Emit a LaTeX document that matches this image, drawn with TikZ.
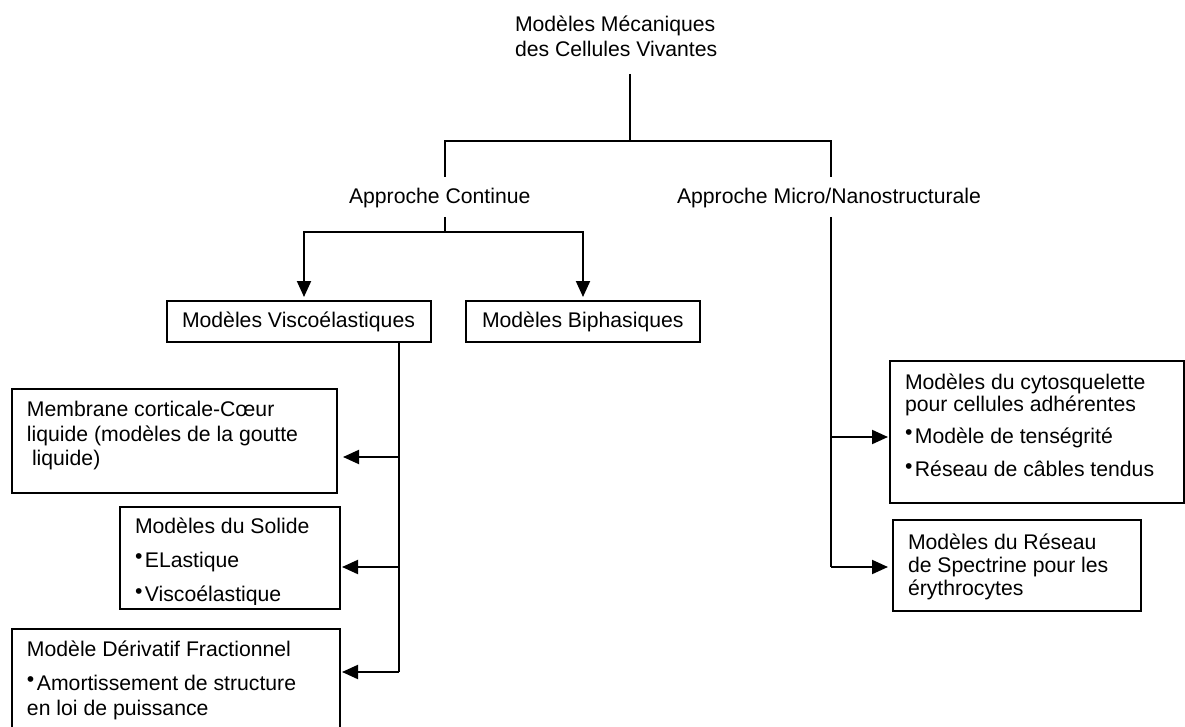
\documentclass[tikz,border=0pt]{standalone}
\usepackage{fontspec}
\setmainfont{Liberation Sans}
\usetikzlibrary{arrows.meta}
\newcommand\fs{\fontsize{21.2pt}{25pt}\selectfont}
\newcommand\mybullet{\raisebox{3.5pt}{•}\hspace{2.5pt}}
\begin{document}
\begin{tikzpicture}[x=1pt,y=-1pt,
  ln/.style={line width=2pt},
  arr/.style={line width=2pt,-{Triangle[length=16pt,width=14pt]}},
  box/.style={draw,line width=2pt,inner sep=0pt,outer sep=0pt,anchor=north west},
  txt/.style={anchor=base west,inner sep=0pt,outer sep=0pt,font=\fs}]
\useasboundingbox (0,0) rectangle (1185,727);
\fill[white] (0,0) rectangle (1185,727);
\clip (0,0) rectangle (1185,727);

% title and approaches
\node[txt] (title1) at (515,31.7) {Modèles Mécaniques};
\node[txt] (title2) at (515,56.7) {des Cellules Vivantes};
\node[txt] (cont) at (349,204) {Approche Continue};
\node[txt] (micro) at (677,204) {Approche Micro/Nanostructurale};

% boxes
\node[box,minimum width=264pt,minimum height=41pt] (visco) at (167,301) {};
\node[box,minimum width=234pt,minimum height=41pt] (bi) at (466,301) {};
\node[box,minimum width=325pt,minimum height=104pt] (mem) at (12,389) {};
\node[box,minimum width=220pt,minimum height=102pt] (sol) at (120,507) {};
\node[box,minimum width=328pt,minimum height=118pt] (fra) at (12,629) {};
\node[box,minimum width=294pt,minimum height=142pt] (cyto) at (890,361) {};
\node[box,minimum width=248pt,minimum height=91pt] (spec) at (893,520) {};

% box texts
\node[txt] (viscoT) at (182,327) {Modèles Viscoélastiques};
\node[txt] (biT) at (482,327) {Modèles Biphasiques};
\node[txt] (memT1) at (27,416.7) {Membrane corticale-Cœur};
\node[txt] (memT2) at (27,441.7) {liquide (modèles de la goutte};
\node[txt] (memT3) at (32,465.5) {liquide)};
\node[txt] (solT1) at (135,533.3) {Modèles du Solide};
\node[txt] (solT2) at (135,567.3) {\mybullet ELastique};
\begin{scope}
\clip (120,507) rectangle (340,604);
\node[txt] (solT3) at (135,601.7) {\mybullet Viscoélastique};
\end{scope}
\node[txt] (fraT1) at (27,656) {Modèle Dérivatif Fractionnel};
\node[txt] (fraT2) at (27,690) {\mybullet Amortissement de structure};
\node[txt] (fraT3) at (27,715) {en loi de puissance};
\node[txt] (cytoT1) at (905,389.3) {Modèles du cytosquelette};
\node[txt] (cytoT2) at (905,411.7) {pour cellules adhérentes};
\node[txt] (cytoT3) at (905,443.3) {\mybullet Modèle de tenségrité};
\node[txt] (cytoT4) at (905,476.7) {\mybullet Réseau de câbles tendus};
\node[txt] (specT1) at (908,549.3) {Modèles du Réseau};
\node[txt] (specT2) at (908,572) {de Spectrine pour les};
\node[txt] (specT3) at (908,595) {érythrocytes};

% connector points
\coordinate (tA) at (630,74);
\coordinate (tB) at (630,141);
\coordinate (dL) at (445,177);
\coordinate (dR) at (831,177);
\coordinate (cA) at (445,217);
\coordinate (cJ) at (445,232);
\coordinate (vT) at (399,342);
\coordinate (vB) at (399,672);
\coordinate (a1) at (399,457);
\coordinate (a2) at (399,567);
\coordinate (rT) at (831,217);
\coordinate (r1) at (831,437);
\coordinate (rB) at (831,567);

% connectors
\draw[ln] (tA) -- (tB);
\draw[ln] (dL) |- (tB) -| (dR);
\draw[ln] (cA) -- (cJ);
\draw[arr,shorten >=4pt] (cJ) -| ([xshift=5pt]visco.north);
\draw[arr,shorten >=4pt] (cJ) -| (bi.north);
\draw[ln] (vT) -- (vB);
\draw[arr,shorten >=6pt] (a1) -- (a1 -| mem.east);
\draw[arr,shorten >=2pt] (a2) -- (a2 -| sol.east);
\draw[arr,shorten >=2pt] (vB) -- (vB -| fra.east);
\draw[ln] (rT) -- (rB);
\draw[arr,shorten >=2pt] (r1) -- (r1 -| cyto.west);
\draw[arr,shorten >=5pt] (rB) -- (rB -| spec.west);
\end{tikzpicture}
\end{document}
